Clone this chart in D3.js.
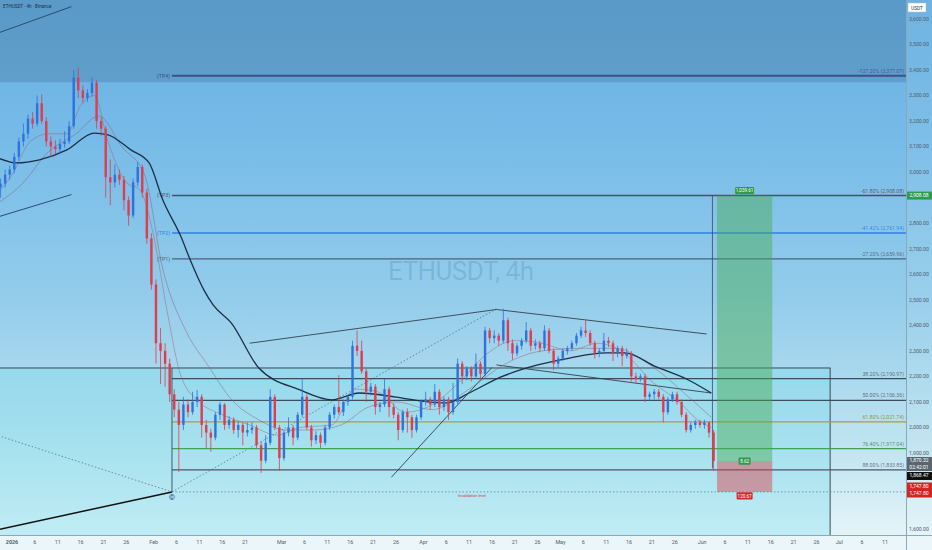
<!DOCTYPE html>
<html><head><meta charset="utf-8">
<script src="https://cdn.jsdelivr.net/npm/d3@7"></script>
<style>html,body{margin:0;padding:0;background:#fff;}svg{display:block;font-family:Roboto,"Liberation Sans",sans-serif;}</style>
</head><body><svg id="c" width="932" height="550"></svg>
<script>
// ---------- DATA ----------
const candles = [
["2025-12-29",2940,2975,2900,2955],["2025-12-30",2955,3010,2940,2990],["2025-12-31",2990,3025,2970,3010],
["2026-01-01",3010,3075,2995,3060],["2026-01-02",3060,3135,3045,3120],["2026-01-03",3120,3190,3100,3150],
["2026-01-04",3150,3225,3130,3210],["2026-01-05",3210,3235,3170,3190],["2026-01-06",3190,3300,3180,3270],
["2026-01-07",3270,3305,3190,3200],["2026-01-08",3200,3215,3100,3120],["2026-01-09",3120,3140,3060,3100],
["2026-01-10",3100,3125,3070,3090],["2026-01-11",3090,3130,3070,3110],["2026-01-12",3110,3160,3095,3120],
["2026-01-13",3120,3200,3110,3180],["2026-01-14",3180,3400,3170,3370],["2026-01-15",3370,3410,3290,3320],
["2026-01-16",3320,3340,3270,3290],["2026-01-17",3290,3325,3275,3310],["2026-01-18",3310,3370,3295,3350],
["2026-01-19",3350,3360,3170,3200],["2026-01-20",3200,3215,3140,3170],["2026-01-21",3170,3180,2900,2980],
["2026-01-22",2980,3050,2870,2960],["2026-01-23",2960,3030,2940,2990],["2026-01-24",2990,3010,2950,2970],
["2026-01-25",2970,2985,2850,2890],["2026-01-26",2890,2905,2790,2830],["2026-01-27",2830,2975,2820,2960],
["2026-01-28",2960,3040,2945,3020],["2026-01-29",3020,3030,2900,2920],["2026-01-30",2920,2935,2720,2740],
["2026-01-31",2740,2760,2540,2560],["2026-02-01",2560,2580,2250,2330],["2026-02-02",2330,2390,2170,2300],
["2026-02-03",2300,2330,2160,2250],["2026-02-04",2250,2270,2100,2130],["2026-02-05",2130,2150,2040,2070],
["2026-02-06",2070,2100,1826,2010],["2026-02-07",2010,2120,1990,2090],["2026-02-08",2090,2110,2040,2060],
["2026-02-09",2060,2140,2050,2100],["2026-02-10",2100,2147,2080,2120],["2026-02-11",2120,2130,1960,2010],
["2026-02-12",2010,2030,1920,1980],["2026-02-13",1980,1995,1905,1960],["2026-02-14",1960,2060,1950,2050],
["2026-02-15",2050,2100,2030,2090],["2026-02-16",2090,2095,1990,2010],["2026-02-17",2010,2045,1995,2030],
["2026-02-18",2030,2040,1975,1990],["2026-02-19",1990,2025,1960,2010],["2026-02-20",2010,2020,1930,1980],
["2026-02-21",1980,2020,1965,1990],["2026-02-22",1990,2020,1975,2000],["2026-02-23",2000,2010,1920,1930],
["2026-02-24",1930,1945,1822,1870],["2026-02-25",1870,1970,1860,1940],["2026-02-26",1940,2150,1930,2120],
["2026-02-27",2120,2130,1990,2000],["2026-02-28",2000,2010,1830,1880],["2026-03-01",1880,1990,1870,1980],
["2026-03-02",1980,2040,1965,2000],["2026-03-03",2000,2010,1930,1960],["2026-03-04",1960,2060,1950,2050],
["2026-03-05",2050,2190,2040,2120],["2026-03-06",2120,2130,1990,2000],["2026-03-07",2000,2010,1925,1950],
["2026-03-08",1950,1985,1935,1970],["2026-03-09",1970,1980,1920,1940],["2026-03-10",1940,2010,1930,2000],
["2026-03-11",2000,2060,1990,2050],["2026-03-12",2050,2090,2035,2080],["2026-03-13",2080,2205,2050,2060],
["2026-03-14",2060,2110,2045,2100],["2026-03-15",2100,2130,2085,2120],["2026-03-16",2120,2340,2110,2320],
["2026-03-17",2320,2380,2280,2300],["2026-03-18",2300,2340,2210,2220],["2026-03-19",2220,2230,2100,2140],
["2026-03-20",2140,2175,2125,2160],["2026-03-21",2160,2170,2050,2080],["2026-03-22",2080,2100,2060,2090],
["2026-03-23",2090,2190,2080,2150],["2026-03-24",2150,2160,2040,2080],["2026-03-25",2080,2095,2035,2050],
["2026-03-26",2050,2060,1950,1990],["2026-03-27",1990,2070,1980,2060],["2026-03-28",2060,2075,1980,2040],
["2026-03-29",2040,2050,1960,1990],["2026-03-30",1990,2050,1980,2040],["2026-03-31",2040,2110,2030,2100],
["2026-04-01",2100,2140,2085,2110],["2026-04-02",2110,2120,2070,2090],["2026-04-03",2090,2170,2080,2140],
["2026-04-04",2140,2150,2050,2080],["2026-04-05",2080,2120,2065,2110],["2026-04-06",2110,2120,2030,2060],
["2026-04-07",2060,2175,2050,2100],["2026-04-08",2100,2270,2090,2250],["2026-04-09",2250,2260,2170,2200],
["2026-04-10",2200,2240,2185,2230],["2026-04-11",2230,2240,2180,2200],["2026-04-12",2200,2290,2190,2250],
["2026-04-13",2250,2260,2190,2210],["2026-04-14",2210,2395,2200,2380],["2026-04-15",2380,2390,2330,2350],
["2026-04-16",2350,2380,2330,2360],["2026-04-17",2360,2370,2320,2340],["2026-04-18",2340,2465,2330,2420],
["2026-04-19",2420,2430,2300,2330],["2026-04-20",2330,2345,2265,2290],["2026-04-21",2290,2330,2280,2320],
["2026-04-22",2320,2350,2305,2340],["2026-04-23",2340,2413,2330,2380],["2026-04-24",2380,2390,2300,2320],
["2026-04-25",2320,2345,2305,2330],["2026-04-26",2330,2340,2295,2310],["2026-04-27",2310,2400,2300,2380],
["2026-04-28",2380,2390,2290,2300],["2026-04-29",2300,2310,2225,2250],["2026-04-30",2250,2280,2235,2270],
["2026-05-01",2270,2310,2260,2300],["2026-05-02",2300,2320,2285,2310],["2026-05-03",2310,2340,2300,2330],
["2026-05-04",2330,2370,2320,2360],["2026-05-05",2360,2395,2350,2380],["2026-05-06",2380,2420,2355,2370],
["2026-05-07",2370,2380,2320,2330],["2026-05-08",2330,2340,2270,2290],["2026-05-09",2290,2310,2275,2300],
["2026-05-10",2300,2370,2290,2340],["2026-05-11",2340,2355,2315,2330],["2026-05-12",2330,2340,2260,2290],
["2026-05-13",2290,2320,2275,2310],["2026-05-14",2310,2320,2240,2280],["2026-05-15",2280,2310,2270,2290],
["2026-05-16",2290,2300,2180,2200],["2026-05-17",2200,2215,2175,2190],["2026-05-18",2190,2210,2180,2200],
["2026-05-19",2200,2210,2100,2120],["2026-05-20",2120,2140,2105,2130],["2026-05-21",2130,2150,2110,2140],
["2026-05-22",2140,2150,2110,2120],["2026-05-23",2120,2130,2020,2060],["2026-05-24",2060,2120,2050,2110],
["2026-05-25",2110,2140,2100,2130],["2026-05-26",2130,2140,2090,2100],["2026-05-27",2100,2110,2040,2050],
["2026-05-28",2050,2060,1980,1990],["2026-05-29",1990,2020,1980,2010],["2026-05-30",2010,2030,1995,2020],
["2026-05-31",2020,2030,2000,2010],["2026-06-01",2010,2030,1995,2020],["2026-06-02",2020,2025,1960,1980],
["2026-06-03",1980,1990,1830,1868.47]
];
const slowMA200 = [["2025-12-29",3055],["2026-01-02",3036],["2026-01-07",3048],["2026-01-13",3087],["2026-01-19",3153],
["2026-01-22",3146],["2026-01-27",3087],["2026-01-31",3036],["2026-02-03",2891],["2026-02-07",2746],["2026-02-09",2656],
["2026-02-12",2538],["2026-02-14",2480],["2026-02-18",2409],["2026-02-24",2233],["2026-03-05",2147],["2026-03-12",2108],
["2026-03-18",2135],["2026-03-26",2119],["2026-04-02",2100],["2026-04-06",2096],["2026-04-11",2135],["2026-04-18",2198],
["2026-04-26",2245],["2026-05-03",2272],["2026-05-11",2292],["2026-05-15",2292],["2026-05-22",2237],["2026-05-29",2186],
["2026-06-03",2135]];
const fastMA = [["2025-12-29",2920],["2026-01-01",2990],["2026-01-05",3120],["2026-01-09",3150],["2026-01-13",3150],
["2026-01-16",3260],["2026-01-19",3300],["2026-01-22",3120],["2026-01-26",2960],["2026-01-29",2930],["2026-02-01",2750],
["2026-02-04",2450],["2026-02-07",2200],["2026-02-11",2100],["2026-02-16",2050],["2026-02-22",2010],["2026-02-28",1970],
["2026-03-05",2000],["2026-03-12",2010],["2026-03-17",2150],["2026-03-22",2140],["2026-03-28",2060],["2026-04-03",2090],
["2026-04-09",2180],["2026-04-15",2290],["2026-04-21",2340],["2026-04-27",2330],["2026-05-03",2300],["2026-05-09",2330],
["2026-05-15",2290],["2026-05-21",2180],["2026-05-27",2100],["2026-05-31",2030],["2026-06-03",2000]];
const midMA = [["2025-12-29",2880],["2026-01-03",2950],["2026-01-09",3080],["2026-01-15",3150],["2026-01-20",3220],
["2026-01-25",3100],["2026-01-30",2990],["2026-02-03",2620],["2026-02-08",2380],["2026-02-13",2240],["2026-02-18",2110],
["2026-02-24",2030],["2026-03-02",1990],["2026-03-08",1990],["2026-03-14",2010],["2026-03-20",2080],["2026-03-26",2100],
["2026-04-03",2070],["2026-04-11",2150],["2026-04-19",2250],["2026-04-27",2300],["2026-05-05",2310],["2026-05-13",2310],
["2026-05-21",2240],["2026-05-29",2120],["2026-06-03",2040]];

// Fibonacci levels
const fibPcts   = ["-127.20%","-61.80%","-41.42%","-27.20%","38.20%","50.00%","61.80%","76.40%","88.00%"];
const fibValues = [3377.07,2908.08,2761.94,2659.96,2190.97,2106.36,2021.74,1917.04,1833.85];
const tpNames   = ["(TP4)","(TP3)","(TP2)","(TP1)"];
const fibAnchorDate = "2026-02-05";
const fibLow = 1747.80, fibHigh = 2464.91;

// Position tool
const entryPrice = 1868.47, targetPrice = 2908.08, stopPrice = 1747.80, lastPrice = 1870.32, countdown = "02:42:01";
const posStart = "2026-06-04T06:00", posEnd = "2026-06-16T08:00", posLineDate = "2026-06-03T06:00";

// Drawings (date, price)
const chanA = [["2025-12-29",3545],["2026-01-14",3648]];
const chanB = [["2025-12-29",2825],["2026-01-14",2912]];
const blackLine = [["2025-12-29",1600],["2026-02-05",1747.8]];
const dotLeft = [["2025-12-29",1968],["2026-02-05",1747.8]];
const dotSwing = [["2026-02-05",1747.8],["2026-04-17",2464.91]];
const resistance = [["2026-02-22",2330],["2026-04-17",2462],["2026-06-02",2366]];
const risingLine = [["2026-03-25",1805],["2026-04-16",2235]];
const lowerLine = [["2026-04-17",2245],["2026-06-03",2135]];
const zoneTop = 2233, zoneEnd = "2026-06-29", topBandLow = 3352;

// Axes
const priceTicks = [1600,1900,2000,2100,2200,2300,2400,2500,2600,2700,2800,3000,3100,3200,3300,3400,3500,3600];
const timeTicks = ["2026-01-01","2026-01-06","2026-01-11","2026-01-16","2026-01-21","2026-01-26","2026-02-01","2026-02-06",
"2026-02-11","2026-02-16","2026-02-21","2026-03-01","2026-03-06","2026-03-11","2026-03-16","2026-03-21","2026-03-26",
"2026-04-01","2026-04-06","2026-04-11","2026-04-16","2026-04-21","2026-04-26","2026-05-01","2026-05-06","2026-05-11",
"2026-05-16","2026-05-21","2026-05-26","2026-06-01","2026-06-06","2026-06-11","2026-06-16","2026-06-21","2026-06-26",
"2026-07-01","2026-07-06","2026-07-11"];
const monthNames = ["2026","Feb","Mar","Apr","May","Jun","Jul"];

// ---------- DRAW ----------
const W=932,H=550,PR=906,PB=535;
const svg=d3.select("#c");
const P=d3.isoParse;
const day=864e5;
const t0=Date.UTC(2026,0,1);
const x=d3.scaleUtc().domain([new Date(t0-2.626*day),new Date(t0+195.6*day)]).range([0,PR]);
const y=d3.scaleLinear().domain([1579,3674]).range([PB,0]);
const dw=x(new Date(t0+day))-x(new Date(t0));

const defs=svg.append("defs");
const g1=defs.append("linearGradient").attr("id","bg").attr("x1",0).attr("y1",0).attr("x2",0).attr("y2",1);
[[0,"#67aee0"],[0.25,"#76bbe8"],[0.55,"#94cdeb"],[0.8,"#bde3f0"],[1,"#eaf7fa"]].forEach(s=>g1.append("stop").attr("offset",s[0]).attr("stop-color",s[1]));
const clip=defs.append("clipPath").attr("id","pc");clip.append("rect").attr("width",PR).attr("height",PB);

svg.append("rect").attr("width",W).attr("height",H).attr("fill","url(#bg)");
svg.append("rect").attr("y",PB).attr("width",W).attr("height",H-PB).attr("fill","#eaf6f9");
svg.append("rect").attr("x",PR).attr("width",W-PR).attr("height",PB).attr("fill","#ffffff").attr("opacity",0.06);

const plot=svg.append("g").attr("clip-path","url(#pc)");
plot.append("rect").attr("x",0).attr("y",0).attr("width",PR).attr("height",y(topBandLow)).attr("fill","#3f6f98").attr("opacity",0.33);
plot.append("rect").attr("x",-2).attr("y",y(zoneTop)).attr("width",x(P(zoneEnd))+2).attr("height",PB-y(zoneTop)+5)
  .attr("fill","rgb(110,220,235)").attr("fill-opacity",0.3).attr("stroke","#2c3a48").attr("stroke-width",0.9);

plot.append("text").attr("x",461).attr("y",280).attr("text-anchor","middle").attr("font-size",26).attr("textLength",146)
  .attr("fill","#3d6a9a").attr("fill-opacity",0.22).text("ETHUSDT, 4h");

const ln=d3.line().x(d=>x(P(d[0]))).y(d=>y(d[1]));
const lnc=d3.line().x(d=>x(P(d[0]))).y(d=>y(d[1])).curve(d3.curveMonotoneX);

plot.append("path").attr("d",ln(chanA)).attr("stroke","#274c74").attr("stroke-width",1).attr("fill","none");
plot.append("path").attr("d",ln(chanB)).attr("stroke","#274c74").attr("stroke-width",1).attr("fill","none");
plot.append("path").attr("d",ln(blackLine)).attr("stroke","#111").attr("stroke-width",1.5).attr("fill","none");
plot.append("path").attr("d",ln(dotLeft)).attr("stroke","#5a7388").attr("stroke-width",0.8).attr("stroke-dasharray","1.5,2").attr("fill","none");
plot.append("path").attr("d",ln(dotSwing)).attr("stroke","#5a7388").attr("stroke-width",0.8).attr("stroke-dasharray","1.5,2").attr("fill","none");

const fibColors=["#3d4f8e","#4e4d66","#2f80e0","#4f6276","#3e4d5a","#3e4d5a","#a6a040","#3ea257","#4d5862"];
const fibWidths=[2,1.5,1.5,1.2,1.2,1.2,1.2,1.4,1.2];
const fx0=x(P(fibAnchorDate));
fibValues.forEach((v,i)=>{
  plot.append("line").attr("x1",fx0).attr("x2",PR).attr("y1",y(v)).attr("y2",y(v)).attr("stroke",fibColors[i]).attr("stroke-width",fibWidths[i]);
  plot.append("text").attr("x",PR-2).attr("y",y(v)-3).attr("text-anchor","end").attr("font-size",5.2)
    .attr("fill",i<4?fibColors[i]:(i==6?"#8a8530":(i==7?"#3a8a50":"#55606a"))).attr("fill-opacity",0.9)
    .text(fibPcts[i]+" ("+d3.format(",.2f")(v)+")");
  if(i<4) plot.append("text").attr("x",fx0-2).attr("y",y(v)+1.8).attr("text-anchor","end").attr("font-size",5.2)
    .attr("fill",fibColors[i]).text(tpNames[i]);
});
plot.append("line").attr("x1",fx0).attr("x2",PR).attr("y1",y(fibLow)).attr("y2",y(fibLow)).attr("stroke","#6a7f90").attr("stroke-width",0.8).attr("stroke-dasharray","1.5,2");
plot.append("line").attr("x1",fx0).attr("x2",fx0).attr("y1",y(zoneTop)).attr("y2",y(fibLow)).attr("stroke","#3a4a58").attr("stroke-width",0.9);
plot.append("text").attr("x",472).attr("y",y(fibLow)+5).attr("text-anchor","middle").attr("font-size",3.8).attr("fill","#d23a3a").text("Invalidation level");
plot.append("text").attr("x",fx0).attr("y",y(fibLow)+8).attr("text-anchor","middle").attr("font-size",8).attr("fill","#21427a").text("©");

plot.append("path").attr("d",ln(resistance)).attr("stroke","#34414e").attr("stroke-width",0.9).attr("fill","none");
plot.append("path").attr("d",ln(risingLine)).attr("stroke","#34414e").attr("stroke-width",0.9).attr("fill","none");
plot.append("path").attr("d",ln(lowerLine)).attr("stroke","#34414e").attr("stroke-width",0.9).attr("fill","none");

const px0=x(P(posStart)),px1=x(P(posEnd));
plot.append("rect").attr("x",px0).attr("y",y(targetPrice)).attr("width",px1-px0).attr("height",y(entryPrice)-y(targetPrice)).attr("fill","rgb(70,170,80)").attr("fill-opacity",0.45);
plot.append("rect").attr("x",px0).attr("y",y(entryPrice)).attr("width",px1-px0).attr("height",y(stopPrice)-y(entryPrice)).attr("fill","rgb(220,60,70)").attr("fill-opacity",0.45);
const plx=x(P(posLineDate));
plot.append("line").attr("x1",plx).attr("x2",plx).attr("y1",y(targetPrice)).attr("y2",y(1840)).attr("stroke","#3b4a58").attr("stroke-width",0.8);
function tag(cx,cy,txt,fill,w){
  plot.append("rect").attr("x",cx-w/2).attr("y",cy-3.6).attr("width",w).attr("height",7.2).attr("rx",1).attr("fill",fill);
  plot.append("text").attr("x",cx).attr("y",cy+1.7).attr("text-anchor","middle").attr("font-size",4.6).attr("fill","#fff").text(txt);
}
const pcx=(px0+px1)/2;
tag(pcx,y(targetPrice)-5,d3.format(",.2f")(targetPrice-entryPrice),"#2f9a4c",19);
tag(pcx,y(entryPrice),d3.format(".2f")((targetPrice-entryPrice)/(entryPrice-stopPrice)),"#2f9a4c",12);
tag(pcx,y(stopPrice)+4,d3.format(",.2f")(entryPrice-stopPrice),"#d8262c",16);

plot.append("path").attr("d",lnc(midMA)).attr("stroke","#8a5f70").attr("stroke-width",0.6).attr("fill","none").attr("opacity",0.8);
plot.append("path").attr("d",lnc(fastMA)).attr("stroke","#a0606e").attr("stroke-width",0.6).attr("fill","none").attr("opacity",0.8);
plot.append("path").attr("d",lnc(slowMA200)).attr("stroke","#1c2f45").attr("stroke-width",1.3).attr("fill","none");

const cg=plot.append("g");
candles.forEach(c=>{
  const cx=x(P(c[0]))+dw/2, up=c[4]>=c[1], col=up?"#2e72dc":"#e03c4e";
  cg.append("line").attr("x1",cx).attr("x2",cx).attr("y1",y(c[2])).attr("y2",y(c[3])).attr("stroke",col).attr("stroke-width",0.8);
  const yt=y(Math.max(c[1],c[4])),yb=y(Math.min(c[1],c[4]));
  cg.append("rect").attr("x",cx-1.2).attr("y",yt).attr("width",2.4).attr("height",Math.max(0.8,yb-yt)).attr("fill",col);
});

svg.append("line").attr("x1",PR+0.5).attr("x2",PR+0.5).attr("y1",0).attr("y2",H).attr("stroke","#8aa8b8").attr("stroke-width",1);
svg.append("line").attr("x1",0).attr("x2",W).attr("y1",PB+0.5).attr("y2",PB+0.5).attr("stroke","#8aa8b8").attr("stroke-width",1);

const fmt=d3.format(",.2f");
priceTicks.forEach(p=>{
  svg.append("text").attr("x",919).attr("y",y(p)+1.8).attr("text-anchor","middle").attr("font-size",5.2).attr("fill","#50606c").text(fmt(p));
});
function axTag(cy,lines,fill,h){
  svg.append("rect").attr("x",PR+1).attr("y",cy-h/2).attr("width",W-PR-1).attr("height",h).attr("fill",fill);
  lines.forEach((t,i)=>svg.append("text").attr("x",919).attr("y",cy-h/2+5.4+i*6.6).attr("text-anchor","middle").attr("font-size",5.0).attr("fill","#fff").text(t));
}
axTag(y(targetPrice),[fmt(targetPrice)],"#2e9a52",8);
axTag(464,[fmt(lastPrice),countdown],"#5a6570",14);
axTag(476,[fmt(entryPrice)],"#111",8);
axTag(490,[fmt(stopPrice),fmt(stopPrice)],"#d22626",15);
svg.append("rect").attr("x",PR+2).attr("y",3).attr("width",18).attr("height",9).attr("fill","#fff").attr("stroke","#b0c0c8").attr("stroke-width",0.5);
svg.append("text").attr("x",PR+11).attr("y",9.6).attr("text-anchor","middle").attr("font-size",4.6).attr("fill","#333").text("USDT");

timeTicks.forEach(s=>{
  const d=P(s), dd=d.getUTCDate(), m=d.getUTCMonth();
  const lab= dd===1 ? monthNames[m] : String(dd);
  svg.append("text").attr("x",x(d)).attr("y",544).attr("text-anchor","middle").attr("font-size",5.4)
    .attr("font-weight",m===0&&dd===1?"bold":"normal").attr("fill","#50606c").text(lab);
});

svg.append("text").attr("x",3).attr("y",8).attr("font-size",4.6).attr("fill","#1d2f45").text("ETHUSDT · 4h · Binance");
</script></body></html>
